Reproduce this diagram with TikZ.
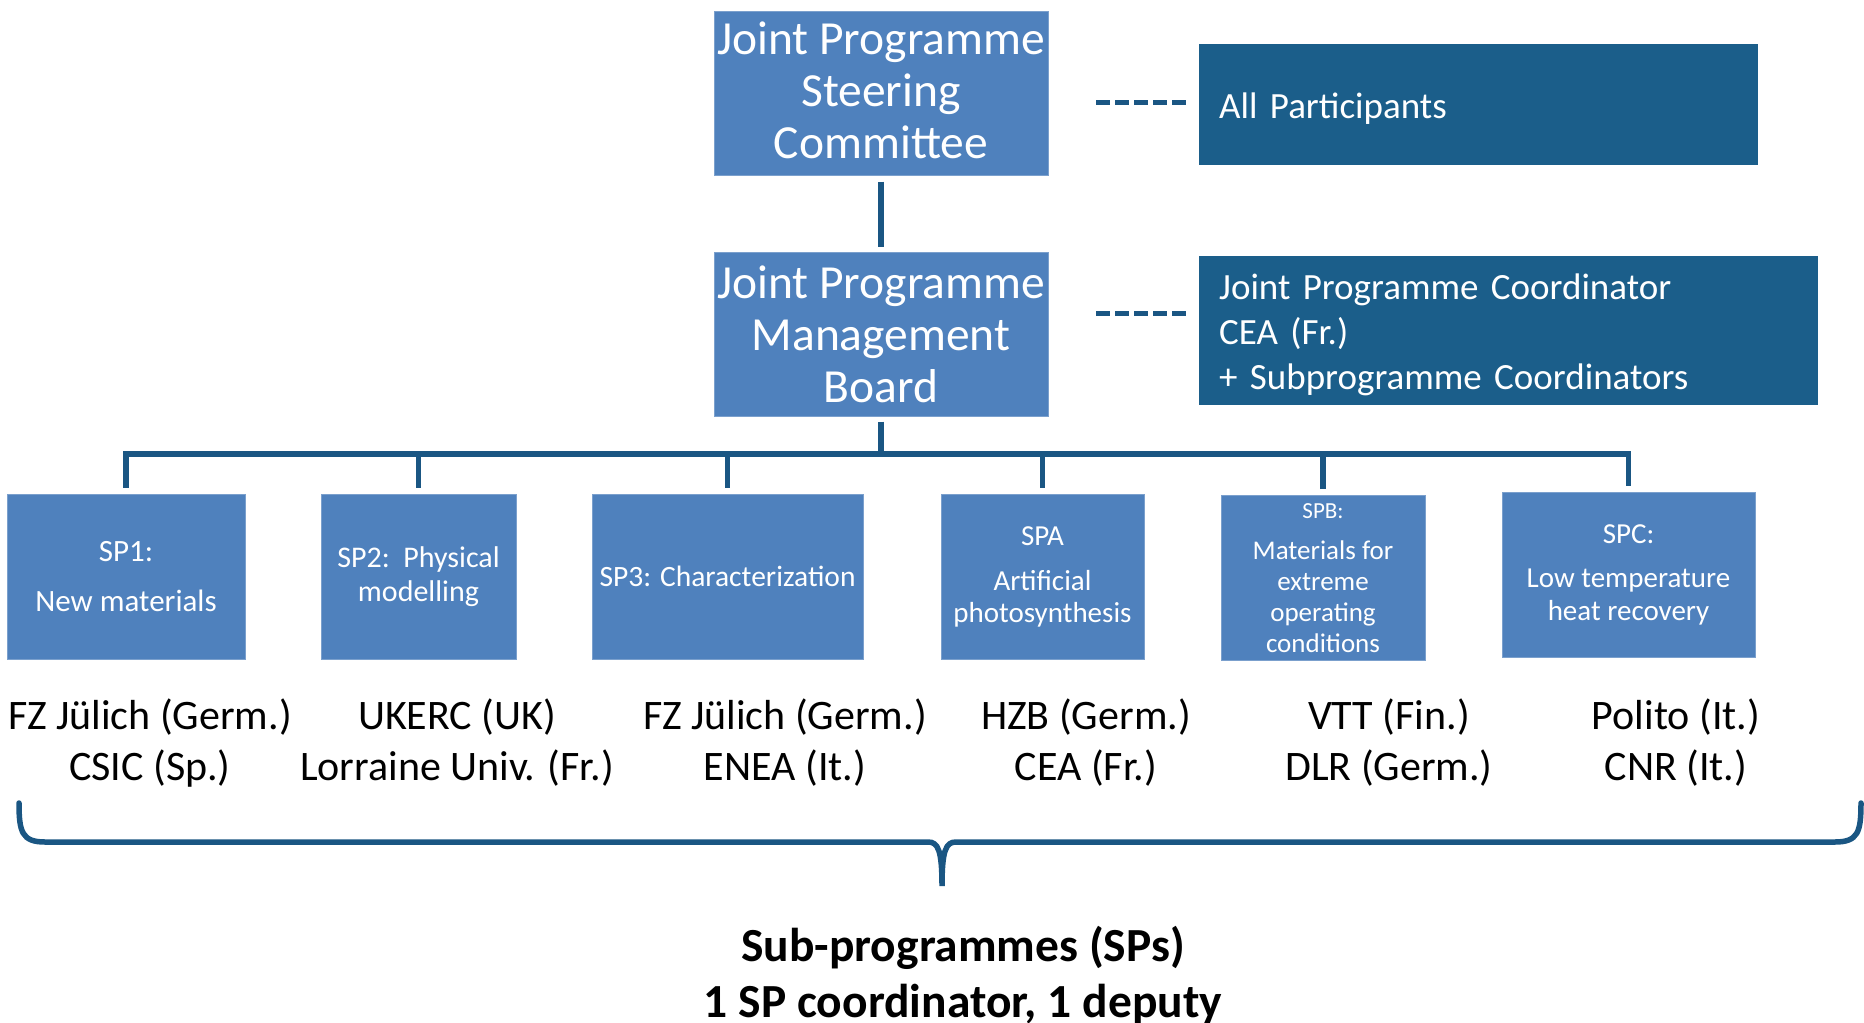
\documentclass[tikz,border=0pt]{standalone}
\usepackage{fontspec}
\setmainfont{Carlito}
\usetikzlibrary{calc}
\definecolor{lightblue}{HTML}{4F81BD}
\definecolor{darkblue}{HTML}{1B5E8A}
\definecolor{linecol}{HTML}{1A5683}
\begin{document}
\begin{tikzpicture}[x=1pt,y=-1pt,
  lbox/.style={fill=lightblue, draw=lightblue!75!white, line width=1pt, text=white, inner sep=0pt, align=center},
  dbox/.style={fill=darkblue, text=white, inner xsep=20pt, inner ysep=0pt, align=left, anchor=west},
  conn/.style={draw=linecol, line width=5.5pt},
  dashline/.style={draw=linecol, line width=5pt, dash pattern=on 14pt off 5pt},
  partner/.style={align=center, font=\fontsize{42}{51}\selectfont, text=black},
]
\useasboundingbox (0,0) rectangle (1864,1023);

% top boxes
\node[lbox, minimum width=334pt, minimum height=164pt, font=\fontsize{47.5}{52}\selectfont] (jpsc) at (881,93) {\raisebox{2.5pt}[\height][\depth]{\parbox{334pt}{\centering Joint Programme\\Steering\\Committee}}};
\node[lbox, minimum width=334pt, minimum height=164pt, font=\fontsize{47.5}{52}\selectfont] (jpmb) at (881,334) {Joint Programme\\Management\\Board};

\node[dbox, minimum height=121pt, text width=519pt, font=\fontsize{37}{45}\selectfont] (allp) at (1199,104) {\raisebox{-4.5pt}[\height][\depth]{All Participants}};
\node[dbox, minimum height=149pt, text width=579pt, font=\fontsize{37}{45}\selectfont] (coord) at (1199,330.5) {\raisebox{-4pt}[\height][\depth]{\parbox{579pt}{Joint Programme Coordinator\\CEA (Fr.)\\+ Subprogramme Coordinators}}};

\draw[dashline] ($(allp.west)+(-103,-2)$) -- ($(allp.west)+(-13,-2)$);
\draw[dashline] ($(coord.west)+(-103,-17)$) -- ($(coord.west)+(-13,-17)$);

% SP boxes
\node[lbox, minimum width=238pt, minimum height=165pt, font=\fontsize{31}{34}\selectfont] (sp1) at (126,576.5) {SP1:\\[16pt]New materials};
\node[lbox, minimum width=195pt, minimum height=165pt, font=\fontsize{30}{34}\selectfont] (sp2) at (418.5,576.5) {SP2:\ \ Physical\\modelling};
\node[lbox, minimum width=271pt, minimum height=165pt, font=\fontsize{29.5}{34}\selectfont] (sp3) at (727.5,576.5) {SP3: Characterization};
\node[lbox, minimum width=203pt, minimum height=165pt, font=\fontsize{29}{32}\selectfont] (spa) at (1042.5,576.5) {SPA\\[13pt]Artificial\\photosynthesis};
\node[lbox, minimum width=204pt, minimum height=165pt, font=\fontsize{27}{31}\selectfont] (spb) at (1323,578) {{\fontsize{23}{31}\selectfont SPB:}\\[10pt]Materials for\\extreme\\operating\\conditions};
\node[lbox, minimum width=253pt, minimum height=165pt, font=\fontsize{29}{33}\selectfont] (spc) at (1628.5,574.5) {SPC:\\[11pt]Low temperature\\heat recovery};

% connectors
\coordinate (bus) at (0,454);
\draw[conn, shorten <=6pt, shorten >=5pt] (jpsc.south) -- (jpmb.north);
\draw[conn, shorten <=5pt] (jpmb.south) -- (jpmb.south |- bus);
\draw[conn, line join=miter, shorten <=6pt, shorten >=6pt] (sp1.north) -- (sp1.north |- bus) -- (spc.north |- bus) -- (spc.north);
\draw[conn, shorten <=6pt] (sp2.north) -- (sp2.north |- bus);
\draw[conn, shorten <=6pt] (sp3.north) -- (sp3.north |- bus);
\draw[conn, shorten <=6pt] (spa.north) -- (spa.north |- bus);
\draw[conn, shorten <=6pt] (spb.north) -- (spb.north |- bus);

% partners
\node[partner] (p1) at (150,743) {FZ Jülich (Germ.)\\CSIC (Sp.)};
\node[partner] (p2) at (457,743) {UKERC (UK)\\Lorraine Univ. (Fr.)};
\node[partner] (p3) at (785,743) {FZ Jülich (Germ.)\\ENEA (It.)};
\node[partner] (p4) at (1086,743) {HZB (Germ.)\\CEA (Fr.)};
\node[partner] (p5) at (1389,743) {VTT (Fin.)\\DLR (Germ.)};
\node[partner] (p6) at (1676,743) {Polito (It.)\\CNR (It.)};

% brace
\draw[draw=linecol, line width=5.5pt, line cap=round]
  (19,803) .. controls (19,832) and (22,842) .. (45,842) -- (928,842)
  .. controls (938,842) and (942,850) .. (942,886)
  .. controls (942,850) and (946,842) .. (956,842) -- (1835,842)
  .. controls (1858,842) and (1861,832) .. (1861,803);

% bottom text
\node[font=\fontsize{47.5}{56}\selectfont\bfseries, align=center] (subp) at (963,976) {Sub-programmes (SPs)\\1 SP coordinator, 1 deputy};
\end{tikzpicture}
\end{document}
